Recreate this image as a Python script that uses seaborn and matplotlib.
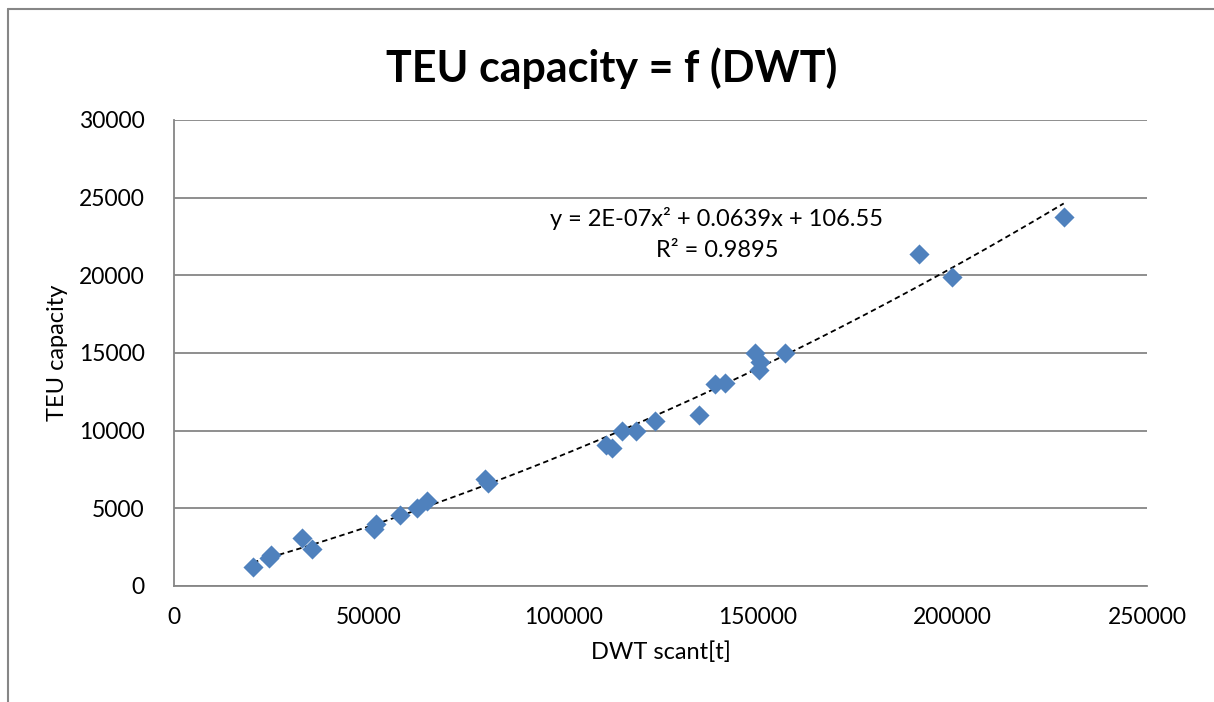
import matplotlib
matplotlib.use("Agg")
import matplotlib.pyplot as plt
from matplotlib.lines import Line2D
import numpy as np
import pandas as pd
import seaborn as sns

# Ship data: deadweight (t) vs. TEU capacity
dwt = [20300, 24500, 25000, 33000, 35500, 51300, 51800, 58000, 62500, 65000,
       79800, 80600, 111000, 112500, 115000, 118800, 123500, 135000, 139000,
       141500, 149400, 150500, 150300, 157000, 191500, 199800, 228600]
teu = [1200, 1800, 2000, 3100, 2400, 3700, 4000, 4600, 5000, 5500,
       6900, 6600, 9100, 8900, 10000, 10000, 10600, 11000, 13000,
       13100, 15000, 14400, 13900, 15000, 21400, 19900, 23750]

eq_label = "y = 2E-07x\u00b2 + 0.0639x + 106.55\nR\u00b2 = 0.9895"
x_ticks = [0, 50000, 100000, 150000, 200000, 250000]
y_ticks = [0, 5000, 10000, 15000, 20000, 25000, 30000]

df = pd.DataFrame({"DWT": dwt, "TEU": teu})

sns.set_theme(style="white")
plt.rcParams["font.family"] = ["Lato", "DejaVu Sans"]
plt.rcParams["text.color"] = "black"
plt.rcParams["axes.labelcolor"] = "black"

GRAY = "#868686"
BLUE = "#4F81BD"

fig = plt.figure(figsize=(12.14, 7.02), dpi=100)
ax = fig.add_axes([174 / 1214, 1 - 586 / 702, (1147 - 174) / 1214, (586 - 120) / 702])

# quadratic trend line over the data range
coef = np.polyfit(df["DWT"], df["TEU"], 2)
xs = np.linspace(df["DWT"].min(), df["DWT"].max(), 200)
ax.plot(xs, np.polyval(coef, xs), color="black", linestyle=(0, (3, 2)), linewidth=1.3, zorder=2)

sns.scatterplot(data=df, x="DWT", y="TEU", marker="D", s=105, color=BLUE,
                linewidth=0, ax=ax, zorder=3)

ax.text(139500, 22650, eq_label, ha="center", va="center", fontsize=17,
        linespacing=1.55, color="black")

ax.set_xlim(0, 250000)
ax.set_ylim(0, 30000)
ax.set_xticks(x_ticks)
ax.set_yticks(y_ticks)
ax.tick_params(axis="both", labelsize=16.5, colors=GRAY, labelcolor="black",
               direction="out", length=6, width=1.3)
ax.tick_params(axis="y", pad=15)
ax.tick_params(axis="x", pad=9)
ax.yaxis.grid(True, color=GRAY, linewidth=1.3)
ax.set_axisbelow(True)
for side in ["top", "right"]:
    ax.spines[side].set_visible(False)
for side in ["left", "bottom"]:
    ax.spines[side].set_color(GRAY)
    ax.spines[side].set_linewidth(1.3)

ax.set_xlabel("DWT scant[t]", fontsize=17, labelpad=10)
ax.set_ylabel("TEU capacity", fontsize=17, labelpad=8)

fig.text(612 / 1214, 1 - 68 / 702, "TEU capacity = f (DWT)", ha="center", va="center",
         fontsize=31, fontweight="bold", color="black")

# outer chart frame (top and left edges visible)
fig.add_artist(Line2D([8 / 1214, 1.0], [1 - 8.5 / 702, 1 - 8.5 / 702], color=GRAY, linewidth=1.5))
fig.add_artist(Line2D([8 / 1214, 8 / 1214], [0.0, 1 - 8.5 / 702], color=GRAY, linewidth=1.5))

fig.savefig("out.png", dpi=100)
